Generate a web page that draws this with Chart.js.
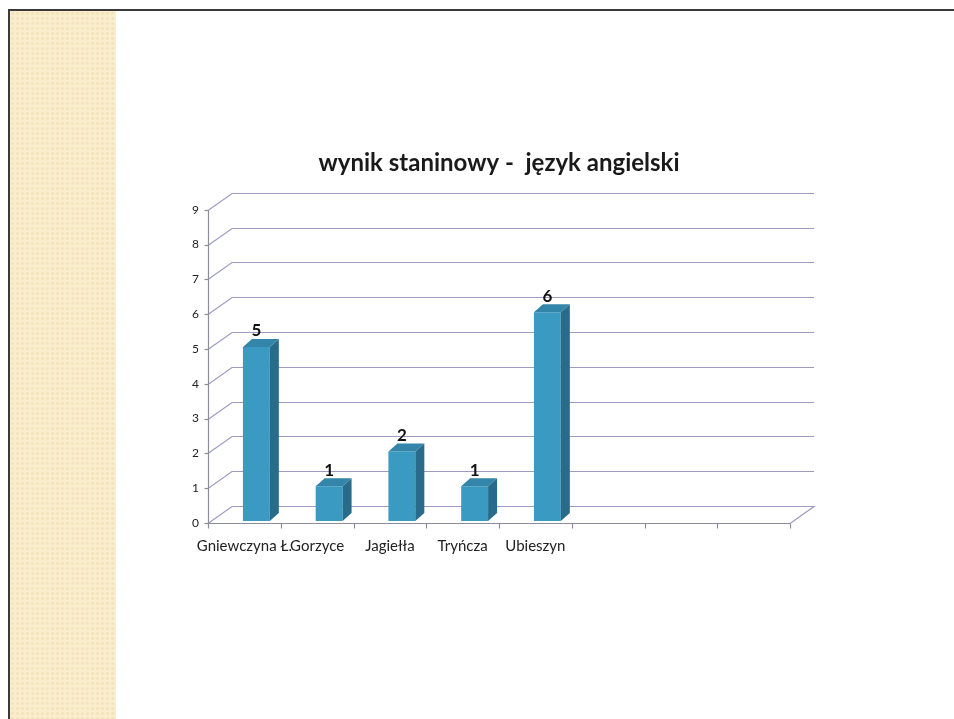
<!DOCTYPE html>
<html lang="pl">
<head>
<meta charset="utf-8">
<title>wynik staninowy - język angielski</title>
<script src="https://cdn.jsdelivr.net/npm/chart.js@4.4.1/dist/chart.umd.min.js"></script>
<style>
    html, body { margin: 0; padding: 0; background: #fff; }
    body { width: 954px; height: 719px; position: relative; overflow: hidden; }
    #frame {
        position: absolute; left: 8px; top: 9px; right: -4px; bottom: -4px;
        border-top: 2px solid #3a3a3a; border-left: 2px solid #3a3a3a;
    }
    #strip {
        position: absolute; left: 10px; top: 11px; width: 106px; bottom: 0;
        background-color: #f9edcc;
        background-image: radial-gradient(circle, rgba(232, 214, 165, 0.45) 1px, transparent 1.6px);
        background-size: 5px 5px;
    }
    #chart-wrap { position: absolute; left: 0; top: 0; width: 954px; height: 719px; }
</style>
</head>
<body>
<div id="frame"></div>
<div id="strip"></div>
<div id="chart-wrap"><canvas id="stanine-chart"></canvas></div>
<script>
// --- DATA ---
const categories = ['Gniewczyna Ł.', 'Gorzyce', 'Jagiełła', 'Tryńcza', 'Ubieszyn', '', '', ''];
const values = [5, 1, 2, 1, 6, null, null, null];
const yTicks = [0, 1, 2, 3, 4, 5, 6, 7, 8, 9];
const chartTitle = 'wynik staninowy -  język angielski';

// --- 3D look ---
const DEPTH_X = 24, DEPTH_Y = 17;       // back wall offset
const BAR_DX = 9, BAR_DY = 8;           // bar depth
const BAR_SHIFT_X = 12, BAR_SHIFT_Y = -2;
const GRID_COLOR = '#9d9ac4';
const AXIS_COLOR = '#8c8c9c';
const FRONT_COLOR = '#3b9ac1';
const TOP_COLOR = '#3386a9';
const SIDE_COLOR = '#296b8a';

const depthPlugin = {
    id: 'depth3d',
    beforeDatasetsDraw(chart) {
        const { ctx, chartArea: a, scales: { x, y } } = chart;
        ctx.save();
        ctx.lineWidth = 1.2;

        // side wall diagonals + back wall lines
        ctx.strokeStyle = GRID_COLOR;
        yTicks.forEach(v => {
            const py = Math.round(y.getPixelForValue(v)) + 0.5;
            ctx.beginPath();
            ctx.moveTo(a.left, py);
            ctx.lineTo(a.left + DEPTH_X, py - DEPTH_Y);
            ctx.lineTo(a.right + DEPTH_X, py - DEPTH_Y);
            if (v === 0) {
                ctx.lineTo(a.right, py);
            }
            ctx.stroke();
        });

        // axes
        ctx.strokeStyle = AXIS_COLOR;
        const y0 = Math.round(y.getPixelForValue(0)) + 0.5;
        const yTop = Math.round(y.getPixelForValue(yTicks[yTicks.length - 1])) + 0.5;
        const xl = Math.round(a.left) + 0.5;
        ctx.beginPath();
        ctx.moveTo(xl, yTop);
        ctx.lineTo(xl, y0);
        ctx.lineTo(a.right, y0);
        ctx.stroke();

        yTicks.forEach(v => {
            const py = Math.round(y.getPixelForValue(v)) + 0.5;
            ctx.beginPath();
            ctx.moveTo(xl - 4, py);
            ctx.lineTo(xl, py);
            ctx.stroke();
        });
        for (let i = 0; i <= categories.length; i++) {
            const px = Math.round(x.getPixelForValue(i - 0.5)) + 0.5;
            ctx.beginPath();
            ctx.moveTo(px, y0);
            ctx.lineTo(px, y0 + 5);
            ctx.stroke();
        }
        ctx.restore();

        // bars sit in the middle of the depth
        ctx.save();
        ctx.translate(BAR_SHIFT_X, BAR_SHIFT_Y);
    },
    afterDatasetsDraw(chart) {
        const { ctx } = chart;
        const meta = chart.getDatasetMeta(0);
        meta.data.forEach((bar, i) => {
            if (values[i] === null) return;
            const { x: cx, y: top, base, width } = bar.getProps(['x', 'y', 'base', 'width'], true);
            const l = cx - width / 2, r = cx + width / 2;

            ctx.fillStyle = TOP_COLOR;
            ctx.beginPath();
            ctx.moveTo(l, top);
            ctx.lineTo(l + BAR_DX, top - BAR_DY);
            ctx.lineTo(r + BAR_DX, top - BAR_DY);
            ctx.lineTo(r, top);
            ctx.closePath();
            ctx.fill();

            ctx.fillStyle = SIDE_COLOR;
            ctx.beginPath();
            ctx.moveTo(r, top);
            ctx.lineTo(r + BAR_DX, top - BAR_DY);
            ctx.lineTo(r + BAR_DX, base - BAR_DY);
            ctx.lineTo(r, base);
            ctx.closePath();
            ctx.fill();

            ctx.fillStyle = '#111';
            ctx.font = 'bold 17px Lato';
            ctx.textAlign = 'center';
            ctx.textBaseline = 'middle';
            ctx.fillText(String(values[i]), cx, top - 16);
        });
        ctx.restore();
    }
};

const chartCtx = document.getElementById('stanine-chart').getContext('2d');
new Chart(chartCtx, {
    type: 'bar',
    data: {
        labels: categories,
        datasets: [{
            data: values,
            backgroundColor: FRONT_COLOR,
            borderWidth: 0,
            categoryPercentage: 1,
            barPercentage: 0.37
        }]
    },
    options: {
        responsive: true,
        maintainAspectRatio: false,
        animation: false,
        layout: { padding: { left: 178, right: 164, top: 149, bottom: 156 } },
        plugins: {
            legend: { display: false },
            tooltip: { enabled: false },
            title: {
                display: true,
                fullSize: false,
                text: chartTitle,
                color: '#1a1a1a',
                font: { family: 'Lato', size: 24, weight: 'bold', lineHeight: 1.2 },
                padding: { top: 0, bottom: 32 }
            }
        },
        scales: {
            x: {
                grid: { display: false, drawTicks: false },
                border: { display: false },
                ticks: {
                    autoSkip: false, maxRotation: 0, minRotation: 0, padding: 14,
                    color: '#222', font: { family: 'Lato', size: 15 }
                },
                afterFit: (s) => { s.height = 40; }
            },
            y: {
                min: 0,
                max: yTicks[yTicks.length - 1],
                grid: { display: false, drawTicks: false },
                border: { display: false },
                ticks: {
                    stepSize: 1, padding: 9,
                    color: '#222', font: { family: 'Lato', size: 12 }
                },
                afterFit: (s) => { s.width = 30; }
            }
        }
    },
    plugins: [depthPlugin]
});
</script>
</body>
</html>
